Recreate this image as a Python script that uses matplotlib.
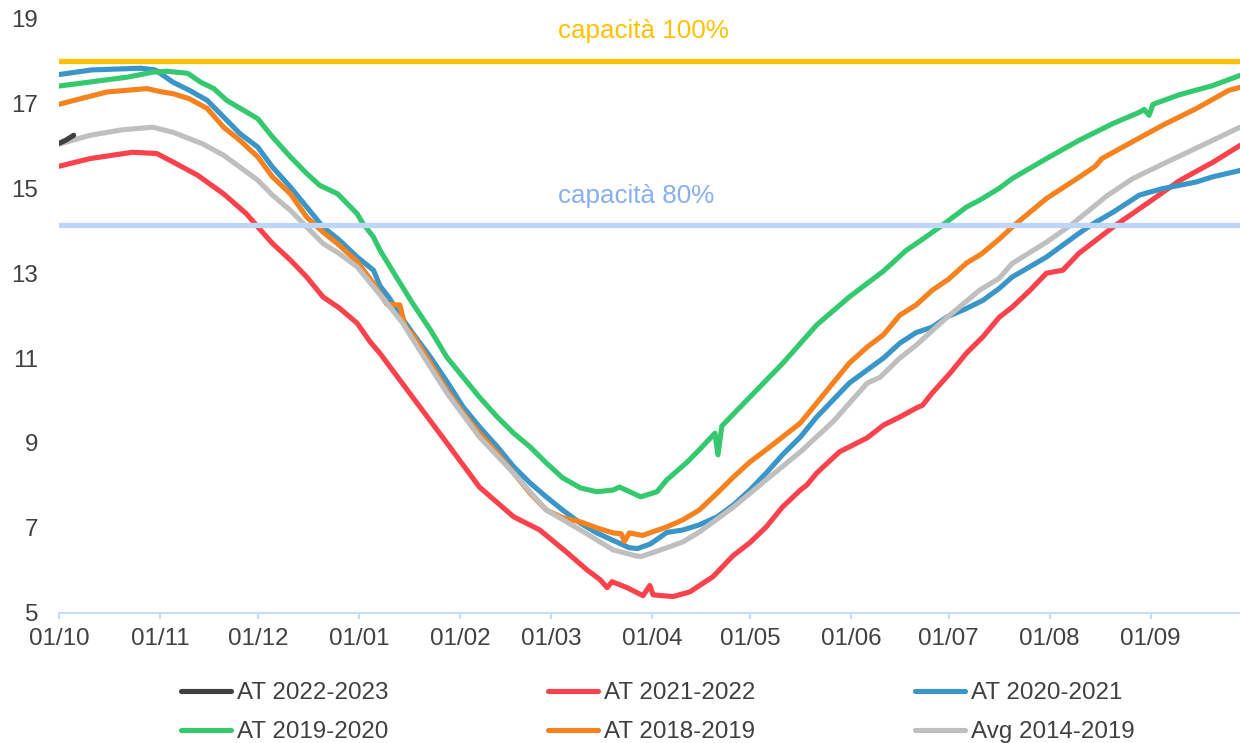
"""
Austrian gas storage levels (TWh) by gas year, 1 October to 30 September,
with the 100% and 80% capacity marks.
"""

import matplotlib.pyplot as plt

plt.rcParams['font.family'] = ['Liberation Sans', 'DejaVu Sans']

# day counts are measured from 1 October
at_2223_days = [0, 2, 4.5]
at_2223_vals = [16.06, 16.13, 16.25]

at_2122_days = [0, 9.5, 22.5, 30, 35, 42.5, 50.5, 57.5, 61, 65.5, 71, 76, 81,
                86, 91.5, 95.5, 98.5, 108.5, 119, 129, 139.5, 147.5, 156, 162,
                166, 168.2, 169.7, 174.3, 179.2, 181.3, 182.3, 188.4, 193.6,
                200.7, 206.8, 212, 217, 222, 227.5, 229.5, 232.5, 239.5, 248,
                253, 258, 263, 265, 268, 273.5, 278.5, 283.5, 288.5, 292.5,
                298, 303, 308, 313, 323.5, 334, 344, 354, 362.4]
at_2122_vals = [15.52, 15.70, 15.85, 15.82, 15.62, 15.31, 14.87, 14.40, 14.09,
                13.70, 13.31, 12.91, 12.44, 12.18, 11.82, 11.38, 11.11, 10.08,
                9.00, 7.96, 7.26, 6.95, 6.41, 6.01, 5.78, 5.59, 5.73, 5.59,
                5.40, 5.64, 5.42, 5.38, 5.49, 5.85, 6.34, 6.65, 7.02, 7.49,
                7.89, 8.01, 8.29, 8.79, 9.12, 9.42, 9.61, 9.82, 9.89, 10.18,
                10.65, 11.12, 11.50, 11.96, 12.20, 12.60, 13.00, 13.07, 13.47,
                14.09, 14.65, 15.19, 15.61, 16.01]

at_2021_days = [0, 10, 25, 29.5, 35, 40, 45.5, 50.5, 55.5, 61, 65.5, 71, 76,
                81, 86, 91.5, 96.5, 98.5, 101.5, 103.5, 108.5, 114, 119, 124,
                129, 134.5, 139.5, 144.5, 149.5, 154.5, 160, 165, 171, 175,
                177.5, 181.5, 186.5, 191.5, 196.5, 202, 207, 212, 217, 222,
                227.5, 232.5, 237.5, 242.5, 248, 253, 258, 263, 268, 272.5,
                278.5, 283.5, 288.5, 292.5, 303, 313, 317, 323.5, 331.5, 338.5,
                349, 354, 362.4]
at_2021_vals = [17.68, 17.79, 17.83, 17.79, 17.50, 17.31, 17.07, 16.68, 16.29,
                15.97, 15.50, 15.03, 14.56, 14.09, 13.78, 13.38, 13.07, 12.70,
                12.40, 12.13, 11.59, 11.02, 10.45, 9.85, 9.38, 8.91, 8.44,
                8.06, 7.73, 7.42, 7.11, 6.88, 6.67, 6.53, 6.51, 6.62, 6.89,
                6.95, 7.07, 7.26, 7.54, 7.89, 8.29, 8.72, 9.14, 9.61, 10.01,
                10.41, 10.72, 11.00, 11.35, 11.60, 11.73, 11.97, 12.17, 12.36,
                12.64, 12.91, 13.38, 13.94, 14.15, 14.44, 14.84, 14.99, 15.15,
                15.27, 15.42]

at_1920_days = [0, 21, 29, 33, 39.5, 43.5, 47.5, 51.5, 57.5, 61, 65.5, 71, 76,
                80, 85.5, 91.5, 93, 96.5, 98.5, 103.5, 108.5, 114, 119, 124,
                129, 134.5, 139.5, 144.5, 149.5, 154.5, 160, 165, 170, 172,
                178.5, 183.5, 186.5, 192.5, 196.5, 201.3, 202.2, 203.4, 212,
                222, 232.5, 242.5, 253, 260, 265, 270.5, 278.5, 282.5, 288.5,
                292.5, 303, 313, 323.5, 331.5, 333, 334.5, 335.7, 344, 354,
                362.4]
at_1920_vals = [17.41, 17.62, 17.74, 17.76, 17.71, 17.50, 17.35, 17.07, 16.80,
                16.64, 16.21, 15.74, 15.35, 15.07, 14.87, 14.40, 14.20, 13.85,
                13.54, 12.91, 12.29, 11.66, 11.02, 10.55, 10.08, 9.61, 9.23,
                8.91, 8.53, 8.18, 7.94, 7.85, 7.89, 7.96, 7.73, 7.85, 8.13,
                8.53, 8.84, 9.23, 8.72, 9.40, 10.08, 10.87, 11.78, 12.44,
                13.05, 13.54, 13.80, 14.10, 14.56, 14.72, 15.00, 15.23, 15.70,
                16.13, 16.53, 16.79, 16.86, 16.72, 16.98, 17.21, 17.42, 17.66]

at_1819_days = [0, 6.5, 14.7, 27, 31, 35, 40, 45.5, 50.5, 55.5, 61, 65.5, 71,
                76, 81, 86, 91.5, 96.5, 100.6, 104.6, 106.2, 108.5, 114, 119,
                124, 129, 134.5, 139.5, 144.5, 149.5, 154.5, 160, 165, 170,
                172.5, 173.5, 175, 179, 186.5, 191.5, 196.5, 202, 207, 212,
                217, 222, 227.5, 232.5, 237.5, 242.5, 248, 253, 258, 263, 268,
                273, 278.5, 283, 288.5, 292.5, 303, 313, 318, 320, 328.5,
                338.5, 349, 359, 362.4]
at_1819_vals = [16.98, 17.11, 17.27, 17.35, 17.28, 17.23, 17.11, 16.88, 16.44,
                16.13, 15.74, 15.27, 14.87, 14.32, 13.97, 13.66, 13.27, 12.76,
                12.27, 12.25, 11.75, 11.55, 10.88, 10.25, 9.71, 9.23, 8.76,
                8.29, 7.82, 7.42, 7.24, 7.14, 7.00, 6.88, 6.86, 6.68, 6.88,
                6.82, 7.02, 7.19, 7.42, 7.82, 8.20, 8.55, 8.84, 9.14, 9.47,
                9.94, 10.41, 10.88, 11.26, 11.55, 12.01, 12.25, 12.60, 12.86,
                13.24, 13.45, 13.80, 14.09, 14.76, 15.26, 15.52, 15.70, 16.06,
                16.48, 16.88, 17.31, 17.38]

avg_1419_days = [0, 9.5, 19.5, 28.8, 35, 44, 50.5, 55.5, 61, 65.5, 71, 76, 81,
                 86, 91.5, 96.5, 101.5, 105.5, 108.5, 119, 129, 139.5, 149.5,
                 160, 170, 177, 178.5, 182, 186.5, 191.5, 196.5, 207, 217,
                 227.5, 237.5, 248, 252, 258, 263, 268, 272.5, 282.5, 288.5,
                 292.5, 303, 310.8, 321.5, 329.5, 340, 354, 362.4]
avg_1419_vals = [16.04, 16.25, 16.38, 16.44, 16.32, 16.05, 15.78, 15.50, 15.19,
                 14.84, 14.48, 14.09, 13.70, 13.46, 13.15, 12.68, 12.21, 11.82,
                 11.45, 10.18, 9.14, 8.29, 7.42, 6.95, 6.48, 6.34, 6.32, 6.41,
                 6.53, 6.67, 6.90, 7.49, 8.13, 8.79, 9.50, 10.41, 10.55, 11.00,
                 11.30, 11.65, 11.96, 12.60, 12.88, 13.23, 13.73, 14.15, 14.82,
                 15.23, 15.62, 16.13, 16.44]

month_days = [0, 31, 61, 92, 123, 151, 182, 212, 243, 273, 304, 335]
month_labels = ['01/10', '01/11', '01/12', '01/01', '01/02', '01/03',
                '01/04', '01/05', '01/06', '01/07', '01/08', '01/09']
capacity_full = 18.0
capacity_80 = 14.14

text_color = '#404040'
axis_color = '#C9DCF5'
label_size = 17.4

fig = plt.figure(figsize=(12.4, 7.43), dpi=100)
ax = fig.add_axes([0.0476, 0.1754, 0.9524, 0.7996])

line_kw = dict(lw=3.7, solid_capstyle='round', solid_joinstyle='round')
l_2122, = ax.plot(at_2122_days, at_2122_vals, color='#F9424B',
                  label='AT 2021-2022', **line_kw)
l_2021, = ax.plot(at_2021_days, at_2021_vals, color='#3A96C8',
                  label='AT 2020-2021', **line_kw)
l_1920, = ax.plot(at_1920_days, at_1920_vals, color='#34C96E',
                  label='AT 2019-2020', **line_kw)
l_1819, = ax.plot(at_1819_days, at_1819_vals, color='#F5821F',
                  label='AT 2018-2019', **line_kw)
l_avg, = ax.plot(avg_1419_days, avg_1419_vals, color='#BFBFBF',
                 label='Avg 2014-2019', **line_kw)
l_2223, = ax.plot(at_2223_days, at_2223_vals, color='#404040',
                  label='AT 2022-2023', **line_kw)

# capacity reference lines sit on top of the series
ax.axhline(capacity_full, color='#FFC000', lw=3.8, zorder=5)
ax.axhline(capacity_80, color='#C0D6F7', lw=3.8, zorder=5)
ax.text(153, 18.54, 'capacità 100%', color='#FFC000', fontsize=18.7,
        va='baseline', ha='left')
ax.text(153, 14.65, 'capacità 80%', color='#86AEF0', fontsize=18.7,
        va='baseline', ha='left')

ax.set_xlim(0, 362.4)
ax.set_ylim(5, 19)
ax.set_xticks(month_days, month_labels)
ax.set_yticks(range(5, 20, 2))

for side in ['top', 'right', 'left']:
    ax.spines[side].set_visible(False)
ax.spines['bottom'].set_color(axis_color)
ax.spines['bottom'].set_linewidth(1.5)
ax.tick_params(axis='x', length=4.3, width=1.5, color=axis_color, pad=7,
               labelsize=label_size, labelcolor=text_color)
ax.tick_params(axis='y', length=0, pad=15, labelsize=label_size,
               labelcolor=text_color)

# legend is filled column by column, so order the handles to read row-wise
handles = [l_2223, l_1920, l_2122, l_1819, l_2021, l_avg]
fig.legend(handles, [h.get_label() for h in handles], loc='upper left',
           bbox_to_anchor=(0.146, 0.082), ncol=3, frameon=False,
           fontsize=label_size, labelcolor=text_color, handlelength=2.07,
           handletextpad=0.25, columnspacing=6.6, labelspacing=0.72,
           borderpad=0, borderaxespad=0)

fig.savefig('out.png', dpi=100)
